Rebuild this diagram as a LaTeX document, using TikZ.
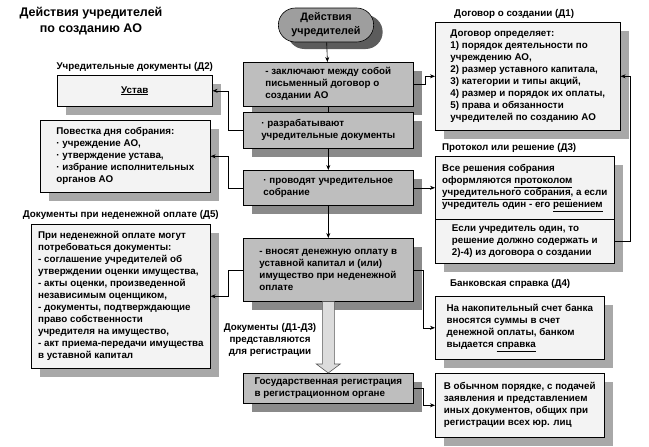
\documentclass[tikz,border=0pt]{standalone}
\usepackage{fontspec}
\setmainfont{Liberation Sans}
\usetikzlibrary{arrows.meta,positioning,shadows,shapes.misc}
\definecolor{actgray}{HTML}{BEBEBE}
\definecolor{notegray}{HTML}{F3F3F3}
\definecolor{headgray}{HTML}{9E9E9E}
\definecolor{headshade}{HTML}{5C5C5C}
\definecolor{actshade}{HTML}{8A8A8A}
\definecolor{noteshade}{HTML}{A8A8A8}
\definecolor{flowfill}{HTML}{DCDCDC}

\begin{document}
\begin{tikzpicture}[x=1pt, y=-1pt, node distance=2pt]
  \tikzstyle{txt}=[font=\fontsize{9.8}{12}\selectfont\bfseries]
  \tikzstyle{act}=[txt, draw, line width=0.6pt, fill=actgray, anchor=north west, align=left, inner sep=2pt, minimum width=170pt, drop shadow={shadow xshift=9pt, shadow yshift=-9pt, fill=actshade, opacity=1}]
  \tikzstyle{note}=[txt, draw, line width=0.6pt, fill=notegray, anchor=north west, align=left, inner sep=2pt, drop shadow={shadow xshift=9pt, shadow yshift=-9pt, fill=noteshade, opacity=1}]
  \tikzstyle{head}=[rounded rectangle, draw, line width=0.6pt, fill=headgray, minimum width=102pt, minimum height=34pt, align=center, font=\fontsize{10.8}{14}\selectfont\bfseries, drop shadow={shadow xshift=9pt, shadow yshift=-7pt, fill=headshade, opacity=1}]
  \tikzstyle{lbl}=[txt, inner sep=1pt]
  \tikzstyle{arrow}=[-{Stealth[length=5pt,width=4pt]}, line width=0.6pt]

  \useasboundingbox (0,0) rectangle (649,447);

  \node[font=\fontsize{12.5}{15.5}\selectfont\bfseries, align=center] (title) at (91,21) {Действия учредителей\\по созданию АО};

  \node[head] (head) at (326,25) {Действия\\учредителей};
  \node[act, minimum height=44pt] (sign) at (243,62) {- заключают между собой\\письменный договор о\\создании АО};
  \node[act, minimum height=36pt] (docs) at (243,112) {· разрабатывают\\учредительные документы};
  \node[act, minimum height=35pt] (meet) at (243,170) {· проводят учредительное\\собрание};
  \node[act, minimum height=63pt] (pay) at (243,238) {- вносят денежную оплату  в\\уставной капитал и (или)\\имущество при неденежной\\оплате};
  \node[act, minimum height=30pt] (reg) at (243,373) {Государственная  регистрация\\в регистрационном органе};

  \node[note, minimum width=185pt, minimum height=108pt] (d1) at (435,22) {Договор определяет:\\1) порядок деятельности по\\учреждению АО,\\2) размер уставного капитала,\\3) категории и типы акций,\\4) размер и порядок их оплаты,\\5) права и обязанности\\учредителей по созданию  АО};
  \node[note, minimum width=179pt, minimum height=63pt] (d3top) at (435,156) {Все решения собрания\\оформляются \underline{протоколом}\\\underline{учредительного собрания}, а если\\учредитель один - его \underline{решением}};
  \node[note, minimum width=179pt, minimum height=44pt] (d3bot) at (435,219) {Если учредитель один, то\\решение должно содержать и\\2)-4) из договора о создании};
  \node[note, minimum width=169pt, minimum height=63pt] (d4) at (435,296) {На накопительный счет банка\\вносятся суммы в счет\\денежной оплаты, банком\\выдается \underline{справка}};
  \node[note, minimum width=169pt, minimum height=64pt] (regd) at (435,373) {В обычном порядке, с подачей\\заявления и представлением\\иных документов, общих  при\\регистрации всех юр. лиц};

  \node[note, align=center, minimum width=155pt, minimum height=31pt] (ustav) at (57,75) {\underline{Устав}};
  \node[note, minimum width=170pt, minimum height=72pt] (agenda) at (40,120) {Повестка дня собрания:\\· учреждение АО,\\· утверждение устава,\\· избрание исполнительных\\органов АО};
  \node[note, minimum width=179pt, minimum height=144pt] (d5) at (31,224) {При неденежной оплате могут\\потребоваться документы:\\- соглашение учредителей об\\утверждении оценки имущества,\\- акты оценки, произведенной\\независимым оценщиком,\\- документы, подтверждающие\\право собственности\\учредителя на имущество,\\- акт приема-передачи имущества\\в уставной капитал};

  \draw[line width=1.4pt] (d3top.south west) -- (d3top.south east);

  \node[lbl, above=2pt of ustav] (d2lbl) {Учредительные документы (Д2)};
  \node[lbl, above=3pt of d5] (d5lbl) {Документы при неденежной оплате (Д5)};
  \node[lbl, above=2pt of d1.north west, anchor=south west, xshift=18pt] (d1lbl) {Договор о создании (Д1)};
  \node[lbl, above=2pt of d3top.north west, anchor=south west, xshift=6pt] (d3lbl) {Протокол или решение (Д3)};
  \node[lbl, above=6pt of d4.north west, anchor=south west, xshift=14pt] (d4lbl) {Банковская справка (Д4)};
  \node[txt, align=center] (sublbl) at (270,340) {Документы (Д1-Д3)\\представляются\\для регистрации};

  \filldraw[fill=flowfill, draw=black!65, line width=0.6pt] ([xshift=-6pt]pay.south) -- ([xshift=-6pt,yshift=9pt]reg.north) -- ([xshift=-12pt,yshift=9pt]reg.north) -- (reg.north) -- ([xshift=12pt,yshift=9pt]reg.north) -- ([xshift=6pt,yshift=9pt]reg.north) -- ([xshift=6pt]pay.south) -- cycle;

  \draw[arrow] (head) -- (sign);
  \draw[line width=0.6pt] (sign) -- (docs);
  \draw[arrow] (docs) -- (meet);
  \draw[arrow] (meet) -- (pay);
  \draw[arrow] (sign.east) -- ++(12,0) |- (d1.west);
  \draw[arrow] (meet.east) -- (d3top.west);
  \draw[arrow] (d3bot.east) -- ++(16,0) |- (d1.east);
  \draw[arrow] (docs.west) -- ++(-15,0) |- (ustav.east);
  \draw[arrow] (meet.west) -- ++(-15,0) |- (agenda.east);
  \draw[arrow] (pay.west) -- ++(-15,0) |- (d5.east);
  \draw[arrow] (pay.east) -- ++(10,0) |- (d4.west);
  \draw[arrow] (reg.east) -- ++(10,0) |- (regd.west);
\end{tikzpicture}
\end{document}
